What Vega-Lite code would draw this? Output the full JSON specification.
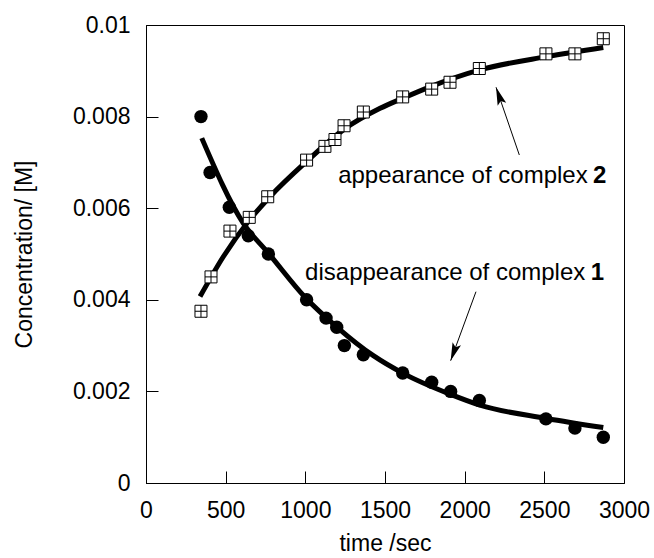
{
  "$schema": "https://vega.github.io/schema/vega-lite/v6.json",
  "width": 478,
  "height": 458,
  "autosize": {"type": "none"},
  "padding": {"left": 146, "top": 25, "right": 30, "bottom": 75},
  "background": "white",
  "config": {
    "view": {"stroke": "black", "strokeWidth": 1},
    "font": "Liberation Sans",
    "axis": {
      "domainColor": "black",
      "domainWidth": 1,
      "tickColor": "black",
      "tickWidth": 1,
      "tickSize": -12,
      "labelColor": "black",
      "titleColor": "black",
      "labelFont": "Liberation Sans",
      "titleFont": "Liberation Sans",
      "labelFontSize": 23,
      "titleFontSize": 23,
      "titleFontWeight": "normal",
      "labelPadding": 28,
      "grid": false,
      "labelFlush": false,
      "labelOverlap": false
    }
  },
  "datasets": {
    "obs": [
      {"t": 345, "c": 0.0080, "complex": "1"},
      {"t": 402, "c": 0.00678, "complex": "1"},
      {"t": 523, "c": 0.00602, "complex": "1"},
      {"t": 642, "c": 0.0054, "complex": "1"},
      {"t": 768, "c": 0.0050, "complex": "1"},
      {"t": 1008, "c": 0.0040, "complex": "1"},
      {"t": 1130, "c": 0.0036, "complex": "1"},
      {"t": 1197, "c": 0.0034, "complex": "1"},
      {"t": 1245, "c": 0.0030, "complex": "1"},
      {"t": 1364, "c": 0.0028, "complex": "1"},
      {"t": 1611, "c": 0.0024, "complex": "1"},
      {"t": 1793, "c": 0.0022, "complex": "1"},
      {"t": 1912, "c": 0.0020, "complex": "1"},
      {"t": 2092, "c": 0.0018, "complex": "1"},
      {"t": 2510, "c": 0.0014, "complex": "1"},
      {"t": 2692, "c": 0.0012, "complex": "1"},
      {"t": 2870, "c": 0.0010, "complex": "1"},
      {"t": 345, "c": 0.00375, "complex": "2"},
      {"t": 408, "c": 0.0045, "complex": "2"},
      {"t": 527, "c": 0.0055, "complex": "2"},
      {"t": 648, "c": 0.0058, "complex": "2"},
      {"t": 764, "c": 0.00625, "complex": "2"},
      {"t": 1008, "c": 0.00705, "complex": "2"},
      {"t": 1123, "c": 0.00735, "complex": "2"},
      {"t": 1186, "c": 0.0075, "complex": "2"},
      {"t": 1243, "c": 0.0078, "complex": "2"},
      {"t": 1364, "c": 0.0081, "complex": "2"},
      {"t": 1611, "c": 0.00843, "complex": "2"},
      {"t": 1793, "c": 0.0086, "complex": "2"},
      {"t": 1908, "c": 0.00875, "complex": "2"},
      {"t": 2092, "c": 0.00905, "complex": "2"},
      {"t": 2510, "c": 0.00937, "complex": "2"},
      {"t": 2692, "c": 0.00937, "complex": "2"},
      {"t": 2870, "c": 0.0097, "complex": "2"}
    ],
    "fit": [
      {"t": 350, "c": 0.00753, "complex": "1"},
      {"t": 611, "c": 0.00567, "complex": "1"},
      {"t": 768, "c": 0.00502, "complex": "1"},
      {"t": 1000, "c": 0.00405, "complex": "1"},
      {"t": 1200, "c": 0.0034, "complex": "1"},
      {"t": 1427, "c": 0.00278, "complex": "1"},
      {"t": 1611, "c": 0.0024, "complex": "1"},
      {"t": 1908, "c": 0.00194, "complex": "1"},
      {"t": 2096, "c": 0.0017, "complex": "1"},
      {"t": 2515, "c": 0.00141, "complex": "1"},
      {"t": 2870, "c": 0.00121, "complex": "1"},
      {"t": 339, "c": 0.00407, "complex": "2"},
      {"t": 485, "c": 0.00494, "complex": "2"},
      {"t": 642, "c": 0.00571, "complex": "2"},
      {"t": 778, "c": 0.00625, "complex": "2"},
      {"t": 1008, "c": 0.00702, "complex": "2"},
      {"t": 1238, "c": 0.00771, "complex": "2"},
      {"t": 1469, "c": 0.00818, "complex": "2"},
      {"t": 1611, "c": 0.0084, "complex": "2"},
      {"t": 1782, "c": 0.00865, "complex": "2"},
      {"t": 2096, "c": 0.00902, "complex": "2"},
      {"t": 2515, "c": 0.00931, "complex": "2"},
      {"t": 2870, "c": 0.00951, "complex": "2"}
    ],
    "arrows": [
      {"arrow": "appearance", "t": 2343, "c": 0.007162, "t2": 2197, "c2": 0.00864},
      {"arrow": "disappearance", "t": 2071, "c": 0.004177, "t2": 1912, "c2": 0.00267}
    ],
    "labels": [
      {"t": 2772, "c": 0.00656, "text": "appearance of complex", "num": "2", "tn": 2805},
      {"t": 2757, "c": 0.00443, "text": "disappearance of complex", "num": "1", "tn": 2792}
    ]
  },
  "layer": [
    {
      "data": {"name": "fit"},
      "mark": {"type": "line", "color": "black", "strokeWidth": 5, "interpolate": "monotone"},
      "encoding": {
        "x": {"field": "t", "type": "quantitative", "scale": {"domain": [0, 3000], "nice": false},
          "axis": {"title": "time /sec", "values": [0, 500, 1000, 1500, 2000, 2500, 3000], "format": "d", "titlePadding": 10}},
        "y": {"field": "c", "type": "quantitative", "scale": {"domain": [0, 0.01], "nice": false},
          "axis": {"title": "Concentration/ [M]", "values": [0, 0.002, 0.004, 0.006, 0.008, 0.01], "format": "~g", "titlePadding": 36}},
        "detail": {"field": "complex"}
      }
    },
    {
      "data": {"name": "obs"},
      "transform": [{"filter": "datum.complex === '1'"}],
      "mark": {"type": "point", "shape": "circle", "filled": true, "color": "black", "size": 180, "opacity": 1},
      "encoding": {
        "x": {"field": "t", "type": "quantitative"},
        "y": {"field": "c", "type": "quantitative"}
      }
    },
    {
      "data": {"name": "obs"},
      "transform": [{"filter": "datum.complex === '2'"}],
      "mark": {"type": "point", "shape": "M-1,-1H1V1H-1Z M0,-1V1 M-1,0H1", "filled": true, "fill": "white", "stroke": "black", "strokeWidth": 1, "size": 144, "opacity": 1},
      "encoding": {
        "x": {"field": "t", "type": "quantitative"},
        "y": {"field": "c", "type": "quantitative"}
      }
    },
    {
      "data": {"name": "arrows"},
      "mark": {"type": "rule", "color": "black", "strokeWidth": 1},
      "encoding": {
        "x": {"field": "t", "type": "quantitative"},
        "y": {"field": "c", "type": "quantitative"},
        "x2": {"field": "t2"},
        "y2": {"field": "c2"}
      }
    },
    {
      "data": {"name": "arrows"},
      "transform": [{"filter": "datum.arrow === 'appearance'"}],
      "mark": {"type": "point", "shape": "M0,0L-0.5,2L0,1.6L0.5,2Z", "filled": true, "color": "black", "size": 324, "angle": 341, "opacity": 1},
      "encoding": {
        "x": {"field": "t2", "type": "quantitative"},
        "y": {"field": "c2", "type": "quantitative"}
      }
    },
    {
      "data": {"name": "arrows"},
      "transform": [{"filter": "datum.arrow === 'disappearance'"}],
      "mark": {"type": "point", "shape": "M0,0L-0.5,2L0,1.6L0.5,2Z", "filled": true, "color": "black", "size": 324, "angle": 200, "opacity": 1},
      "encoding": {
        "x": {"field": "t2", "type": "quantitative"},
        "y": {"field": "c2", "type": "quantitative"}
      }
    },
    {
      "data": {"name": "labels"},
      "mark": {"type": "text", "align": "right", "baseline": "alphabetic", "font": "Liberation Sans", "fontSize": 24, "color": "black"},
      "encoding": {
        "x": {"field": "t", "type": "quantitative"},
        "y": {"field": "c", "type": "quantitative"},
        "text": {"field": "text"}
      }
    },
    {
      "data": {"name": "labels"},
      "mark": {"type": "text", "align": "left", "baseline": "alphabetic", "font": "Liberation Sans", "fontSize": 24, "fontWeight": "bold", "color": "black"},
      "encoding": {
        "x": {"field": "tn", "type": "quantitative"},
        "y": {"field": "c", "type": "quantitative"},
        "text": {"field": "num"}
      }
    }
  ]
}
